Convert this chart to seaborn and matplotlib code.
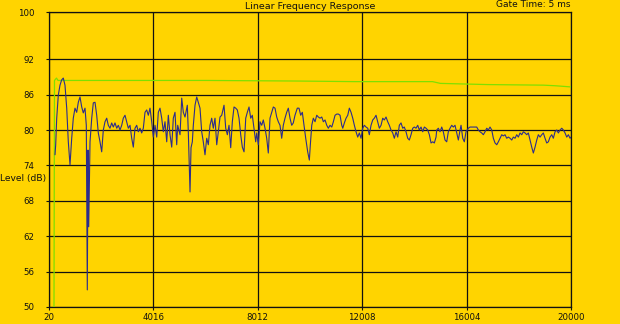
import matplotlib
matplotlib.use("Agg")
import matplotlib.pyplot as plt
import seaborn as sns
import pandas as pd

# ---- data -------------------------------------------------------------
blue_freq = [250, 276, 315, 376, 441, 506, 567, 632, 698, 759, 824, 889, 950, 1015,
             1080, 1142, 1207, 1272, 1333, 1398, 1448, 1486, 1513, 1540, 1590, 1655,
             1716, 1781, 1846, 1907, 1972, 2037, 2099, 2164, 2229, 2290, 2355, 2420,
             2482, 2546, 2612, 2673, 2738, 2803, 2864, 2929, 2994, 3056, 3121, 3186,
             3247, 3312, 3377, 3438, 3503, 3568, 3630, 3695, 3760, 3821, 3886, 3951,
             4013, 4078, 4143, 4204, 4269, 4334, 4396, 4460, 4526, 4587, 4652, 4717,
             4778, 4843, 4908, 4946, 5035, 5100, 5161, 5226, 5314, 5352, 5418, 5456,
             5506, 5544, 5609, 5674, 5735, 5800, 5865, 5926, 5991, 6057, 6118, 6183,
             6248, 6309, 6374, 6440, 6501, 6566, 6631, 6719, 6784, 6846, 6910, 6975,
             7037, 7102, 7167, 7228, 7293, 7358, 7420, 7485, 7550, 7611, 7676, 7741,
             7802, 7867, 7932, 7971, 8032, 8097, 8162, 8223, 8288, 8353, 8414, 8479,
             8544, 8606, 8671, 8736, 8797, 8862, 8927, 8988, 9053, 9118, 9180, 9245,
             9310, 9371, 9436, 9524, 9589, 9654, 9716, 9781, 9846, 9922, 9985, 10023,
             10077, 10138, 10203, 10268, 10330, 10394, 10460, 10521, 10586, 10651,
             10712, 10777, 10843, 10904, 10969, 11034, 11095, 11160, 11225, 11264,
             11325, 11390, 11455, 11516, 11581, 11646, 11708, 11772, 11837, 11898,
             11963, 12028, 12090, 12155, 12220, 12281, 12346, 12411, 12472, 12537,
             12602, 12664, 12729, 12794, 12855, 12920, 12985, 13046, 13111, 13176,
             13238, 13303, 13368, 13429, 13494, 13559, 13620, 13685, 13750, 13812,
             13877, 13942, 14003, 14068, 14133, 14194, 14260, 14325, 14386, 14451,
             14516, 14578, 14643, 14708, 14769, 14834, 14861, 14922, 14987, 15052,
             15113, 15178, 15243, 15305, 15370, 15435, 15496, 15561, 15626, 15688,
             15753, 15791, 15856, 15917, 15982, 16070, 16135, 16262, 16392, 16453,
             16518, 16583, 16645, 16710, 16775, 16836, 16901, 16966, 17028, 17093,
             17158, 17219, 17284, 17349, 17411, 17475, 17540, 17602, 17667, 17732,
             17793, 17858, 17923, 17984, 18049, 18114, 18176, 18241, 18306, 18367,
             18432, 18497, 18559, 18624, 18689, 18750, 18815, 18880, 18941, 19006,
             19071, 19133, 19198, 19263, 19324, 19389, 19454, 19516, 19581, 19646,
             19707, 19772, 19837, 19899, 19964, 20000]
blue_db = [75.8, 77.5, 82.0, 85.9, 87.6, 88.5, 88.8, 87.6, 83.7, 78.0, 74.1, 78.6, 82.0, 83.7,
           83.0, 84.7, 85.6, 83.9, 82.9, 83.7, 80.8, 52.9, 76.6, 63.6, 78.0, 82.0,
           84.6, 84.7, 82.5, 79.5, 78.0, 76.3, 80.0, 81.4, 82.0, 80.8, 80.3, 81.2,
           80.5, 81.2, 80.3, 80.8, 80.0, 80.8, 82.0, 82.5, 81.4, 80.3, 80.8, 78.6,
           77.1, 80.3, 80.8, 79.7, 80.3, 79.5, 80.3, 83.0, 83.4, 82.5, 83.7, 81.4,
           78.8, 80.8, 78.8, 83.0, 83.7, 82.0, 79.7, 81.4, 78.0, 82.5, 79.2, 77.1,
           82.0, 83.0, 77.5, 80.8, 79.2, 85.4, 83.0, 82.2, 84.2, 79.7, 69.5, 77.0,
           78.0, 80.8, 84.2, 85.6, 84.7, 83.7, 79.7, 78.0, 75.8, 78.6, 77.5, 80.8,
           82.0, 80.3, 82.0, 77.5, 79.7, 82.2, 82.5, 84.2, 80.3, 79.2, 80.8, 77.0,
           81.4, 83.9, 83.7, 83.4, 82.0, 79.2, 77.1, 76.3, 82.0, 83.0, 83.9, 82.0,
           82.5, 80.3, 78.0, 79.5, 77.5, 81.4, 80.8, 81.7, 80.3, 78.6, 76.1, 82.0,
           83.0, 83.9, 83.7, 82.2, 81.4, 80.8, 78.6, 80.8, 82.0, 83.0, 83.7, 82.0,
           80.8, 81.2, 82.5, 83.7, 83.7, 82.5, 83.0, 80.8, 78.6, 76.3, 74.9, 77.5,
           80.8, 82.0, 81.4, 82.5, 82.2, 82.0, 82.2, 81.4, 81.7, 80.8,
           80.3, 80.8, 80.5, 81.4, 82.5, 82.7, 82.7, 82.5, 80.8, 80.3,
           81.2, 82.0, 82.5, 83.7, 83.0, 82.0, 80.8, 79.7, 78.8, 79.5,
           78.6, 80.3, 80.8, 80.5, 80.3, 79.2, 80.8, 81.7, 82.0, 82.5,
           81.4, 80.3, 80.8, 82.0, 81.7, 82.2, 81.4, 80.8, 80.0, 79.5,
           78.6, 79.7, 78.8, 80.8, 81.2, 80.3, 80.5, 79.7, 78.6, 78.3,
           79.2, 80.3, 80.5, 80.3, 80.8, 80.0, 80.5, 79.7, 80.5, 80.3,
           80.0, 79.2, 77.8, 78.0, 77.8, 78.8, 80.0, 80.3, 79.7, 80.5,
           79.7, 78.3, 78.0, 79.7, 80.3, 80.8, 80.5, 80.8, 79.5, 78.3,
           80.0, 80.8, 78.6, 78.0, 79.7, 80.3, 80.5, 80.5, 80.5, 80.0,
           79.7, 79.5, 79.2, 79.7, 80.3, 80.0, 80.5, 80.0, 78.6, 77.8,
           77.5, 78.0, 78.6, 79.2, 79.0, 79.2, 78.6, 78.8, 78.6, 78.3,
           78.8, 78.6, 79.2, 78.8, 79.5, 79.2, 79.7, 79.5, 79.2, 79.5,
           78.3, 77.1, 76.1, 77.1, 78.3, 79.2, 78.8, 79.2, 79.5, 78.6,
           77.8, 78.0, 78.8, 79.2, 78.6, 79.7, 80.0, 79.5, 80.0, 80.3,
           80.0, 79.5, 78.8, 79.2, 78.6, 78.8]

green_freq = [211, 230, 307, 365, 2000, 6000, 9500, 11700, 14700, 15000, 16800, 18950, 19400, 20000]
green_db = [50.0, 88.4, 88.8, 88.4, 88.4, 88.4, 88.3, 88.2, 88.2, 87.9, 87.7, 87.6, 87.5, 87.3]

x_ticks = [20, 4016, 8012, 12008, 16004, 20000]
y_ticks = [50, 56, 62, 68, 74, 80, 86, 92, 100]

title = "Linear Frequency Response"
gate_text = "Gate Time: 5 ms"
y_label = "Level (dB)"

# ---- plot -------------------------------------------------------------
sns.set_style("white")
plt.rcParams["font.family"] = ["DejaVu Sans"]

BG = "#FFD400"
fig = plt.figure(figsize=(6.2, 3.24), dpi=100, facecolor=BG)
ax = fig.add_axes([49 / 620, 1 - 307 / 324, 522 / 620, 295 / 324])
ax.set_facecolor(BG)

blue_df = pd.DataFrame({"freq": blue_freq, "db": blue_db})
green_df = pd.DataFrame({"freq": green_freq, "db": green_db})

sns.lineplot(data=green_df, x="freq", y="db", ax=ax, color="#7EE000",
             linewidth=0.9, sort=False, estimator=None, zorder=3)
sns.lineplot(data=blue_df, x="freq", y="db", ax=ax, color="#2C2C8C",
             linewidth=0.8, sort=False, estimator=None, zorder=4)

ax.set_xlim(20, 20000)
ax.set_ylim(50, 100)
ax.set_xticks(x_ticks)
ax.set_xticklabels([str(t) for t in x_ticks])
ax.set_yticks(y_ticks)
ax.set_yticklabels([str(t) for t in y_ticks])
ax.set_xlabel("")
ax.set_ylabel("")

ax.grid(True, color="#111111", linewidth=0.9, zorder=1)
ax.set_axisbelow(True)
for sp in ax.spines.values():
    sp.set_visible(True)
    sp.set_color("#111111")
    sp.set_linewidth(0.9)

ax.tick_params(axis="y", direction="out", length=2.5, width=0.8, pad=8,
               labelsize=6.2, colors="#111111", left=True)
ax.tick_params(axis="x", direction="out", length=2.5, width=0.8, pad=1.5,
               labelsize=6.2, colors="#111111", bottom=True)

fig.text(0.5, 1 - 6.5 / 324, title, ha="center", va="center", fontsize=6.8,
         color="#111111")
fig.text(570 / 620, 1 - 4.5 / 324, gate_text, ha="right", va="center", fontsize=6.5,
         color="#111111")
fig.text(0.0, 1 - 179 / 324, y_label, ha="left", va="center", fontsize=6.6,
         color="#111111")

fig.savefig("out.png", dpi=100, facecolor=BG)
